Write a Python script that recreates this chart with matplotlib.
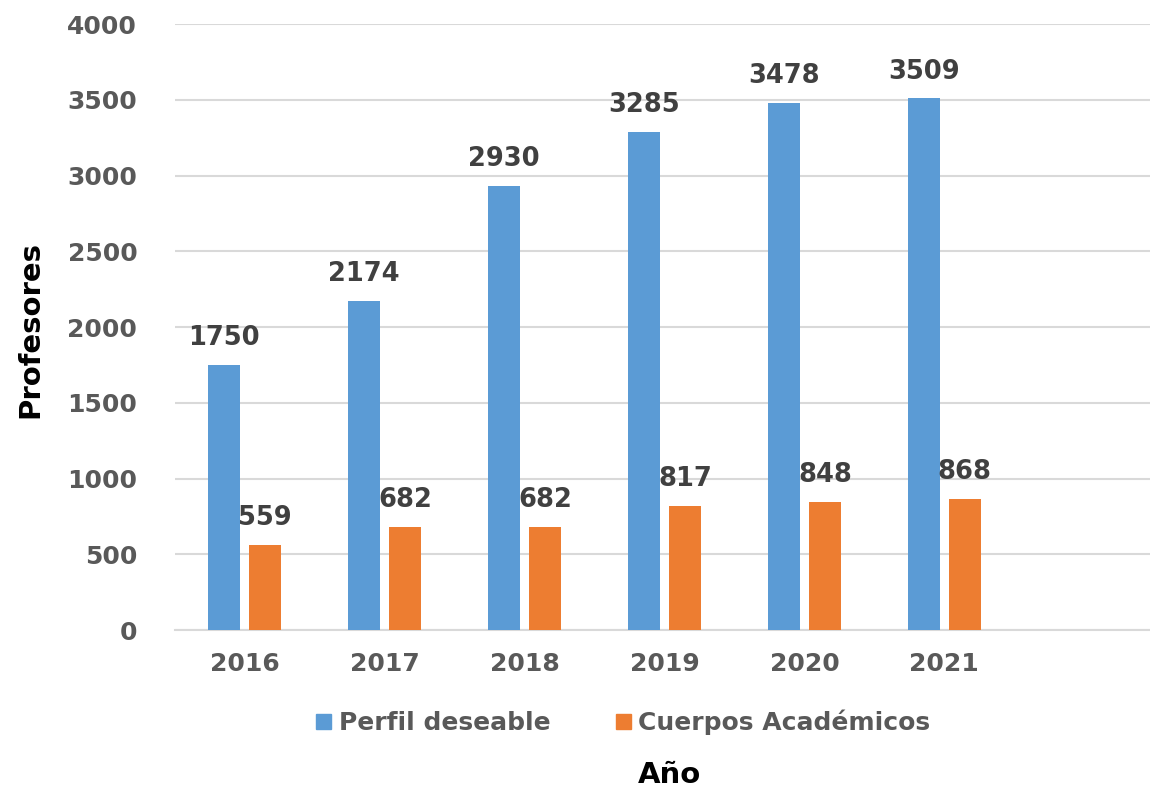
import numpy as np
import matplotlib.pyplot as plt
from matplotlib.patches import Patch

years = ["2016", "2017", "2018", "2019", "2020", "2021"]
perfil = [1750, 2174, 2930, 3285, 3478, 3509]
cuerpos = [559, 682, 682, 817, 848, 868]

blue = "#5B9BD5"
orange = "#ED7D31"
grey_txt = "#595959"

plt.rcParams["font.family"] = "DejaVu Sans"
plt.rcParams["font.weight"] = "bold"

fig = plt.figure(figsize=(11.5, 7.88), dpi=100)
ax = fig.add_axes([0.152, 0.2005, 0.848, 0.769])

x = np.arange(len(years))
w = 0.229
off = 0.146
b1 = ax.bar(x - off, perfil, w, color=blue, zorder=3)
b2 = ax.bar(x + off, cuerpos, w, color=orange, zorder=3)

for bars, vals in ((b1, perfil), (b2, cuerpos)):
    for rect, v in zip(bars, vals):
        ax.annotate(str(v), (rect.get_x() + rect.get_width() / 2, v),
                    xytext=(0, 10), textcoords="offset points",
                    ha="center", va="bottom", fontsize=18.5,
                    fontweight="bold", color="#404040")

ax.set_xlim(-0.5, 6.47)
ax.set_ylim(0, 4000)
ax.set_yticks(np.arange(0, 4001, 500))
ax.set_xticks(x)
ax.set_xticklabels(years)
ax.tick_params(axis="both", length=0, labelsize=18, labelcolor=grey_txt)
ax.tick_params(axis="y", pad=27)
ax.tick_params(axis="x", pad=16)
for lab in ax.get_xticklabels() + ax.get_yticklabels():
    lab.set_fontweight("bold")

ax.grid(axis="y", color="#D9D9D9", linewidth=1.5, zorder=0)
for s in ["top", "right", "left"]:
    ax.spines[s].set_visible(False)
ax.spines["bottom"].set_color("#D9D9D9")
ax.spines["bottom"].set_linewidth(1.5)

fig.text(0.026, 0.582, "Profesores", rotation=90, ha="center", va="center",
         fontsize=21, fontweight="bold", color="black")
fig.text(0.582, 0.017, "Año", ha="center", va="center",
         fontsize=21, fontweight="bold", color="black")

handles = [Patch(color=blue, label="Perfil deseable"),
           Patch(color=orange, label="Cuerpos Académicos")]
leg = fig.legend(handles=handles, loc="center", bbox_to_anchor=(0.542, 0.083),
                 ncol=2, frameon=False, fontsize=18, handlelength=0.6,
                 handleheight=0.6, handletextpad=0.3, columnspacing=2.6)
for t in leg.get_texts():
    t.set_color(grey_txt)
    t.set_fontweight("bold")

fig.savefig("out.png", dpi=100)
